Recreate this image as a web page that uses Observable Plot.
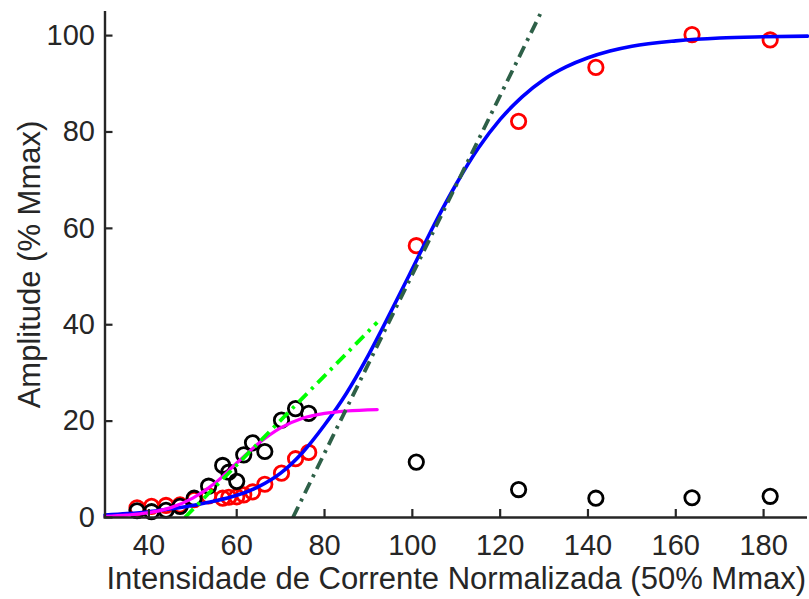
<!DOCTYPE html>
<html>
<head>
<meta charset="utf-8">
<script src="https://cdn.jsdelivr.net/npm/d3@7"></script>
<script src="https://cdn.jsdelivr.net/npm/@observablehq/plot@0.6"></script>
<style>
  html, body { margin: 0; padding: 0; background: #fff; }
  #chart svg { display: block; }
</style>
</head>
<body>
<div id="chart"></div>
<script>
// Shared stimulation intensities (x, % of 50% Mmax)
const intensities = [37.3, 40.6, 43.9, 47.1, 50.3, 53.6, 56.8, 58.2, 60.0, 61.6, 63.6, 66.4, 70.2, 73.4, 76.4, 100.9, 124.2, 141.8, 163.7, 181.5];
// Red series (amplitude, % Mmax)
const redAmp = [2.0, 2.3, 2.5, 2.6, 3.7, 4.5, 4.0, 4.2, 4.3, 4.7, 5.3, 6.9, 9.2, 12.2, 13.5, 56.4, 82.2, 93.4, 100.2, 99.1];
// Black series (amplitude, % Mmax)
const blackAmp = [1.4, 1.2, 1.5, 2.3, 4.0, 6.5, 10.8, 9.4, 7.5, 13.0, 15.5, 13.7, 20.2, 22.6, 21.6, 11.5, 5.8, 4.0, 4.1, 4.4];

// Blue fitted curve
const blueX = [30, 35, 40, 45, 50, 55, 60, 65, 70, 75, 80, 85, 90, 95, 100, 105, 110, 115, 120, 125, 130, 135, 140, 145, 150, 160, 170, 180, 190];
const blueY = [0.5, 0.8, 1.2, 1.8, 2.5, 3.4, 4.6, 6.4, 9.2, 13.5, 19.2, 25.8, 33.7, 42.5, 51.6, 60.8, 69.2, 76.6, 82.6, 87.3, 90.9, 93.5, 95.4, 96.8, 97.8, 98.9, 99.5, 99.75, 99.9];

// Magenta fitted curve
const magX = [30, 35, 40, 45, 50, 55, 60, 65, 70, 75, 80, 85, 92];
const magY = [0.25, 0.5, 1.0, 2.05, 4.0, 7.1, 11.3, 15.4, 18.6, 20.6, 21.6, 22.1, 22.4];

// Bright green dash-dot line (end points)
const greenX = [48.2, 92.0];
const greenY = [0, 40.5];

// Dark green dash-dot tangent line (end points)
const darkX = [72.8, 129.3];
const darkY = [0, 104.8];

const xTicks = [40, 60, 80, 100, 120, 140, 160, 180];
const yTicks = [0, 20, 40, 60, 80, 100];
const xLabel = "Intensidade de Corrente Normalizada (50% Mmax)";
const yLabel = "Amplitude (% Mmax)";

const red = intensities.map((x, i) => ({x, y: redAmp[i]}));
const black = intensities.map((x, i) => ({x, y: blackAmp[i]}));
const blue = blueX.map((x, i) => ({x, y: blueY[i]}));
const mag = magX.map((x, i) => ({x, y: magY[i]}));
const green = greenX.map((x, i) => ({x, y: greenY[i]}));
const dark = darkX.map((x, i) => ({x, y: darkY[i]}));

const axisColor = "#262626";
const font = "'Liberation Sans', Arial, Helvetica, sans-serif";

const chart = Plot.plot({
  width: 809,
  height: 599,
  marginLeft: 104.5,
  marginRight: 2,
  marginTop: 11,
  marginBottom: 82,
  style: {fontFamily: font, background: "#fff", overflow: "visible"},
  x: {domain: [30, 190], ticks: xTicks},
  y: {domain: [0, 105], ticks: yTicks},
  marks: [
    Plot.dot(red, {x: "x", y: "y", r: 7.2, stroke: "#ff0000", fill: "none", strokeWidth: 2.8}),
    Plot.dot(black, {x: "x", y: "y", r: 7.2, stroke: "#000000", fill: "none", strokeWidth: 2.8}),
    Plot.line(blue, {x: "x", y: "y", stroke: "#0000ff", strokeWidth: 3.6, curve: "monotone-x"}),
    Plot.line(mag, {x: "x", y: "y", stroke: "#ff00ff", strokeWidth: 3.2, curve: "monotone-x"}),
    Plot.line(green, {x: "x", y: "y", stroke: "#00ff00", strokeWidth: 3.8, strokeDasharray: "12,6,3,6", strokeLinecap: "butt"}),
    Plot.line(dark, {x: "x", y: "y", stroke: "#2e6048", strokeWidth: 3.8, strokeDasharray: "12,6,3,6", strokeLinecap: "butt"}),
    // axes lines
    Plot.ruleY([0], {stroke: axisColor, strokeWidth: 2.4, insetLeft: -1}),
    Plot.ruleX([30], {stroke: axisColor, strokeWidth: 2.4, insetBottom: -1}),
    // inward ticks
    Plot.ruleX(xTicks, {x: d => d, y1: 0, y2: 0, insetBottom: 8, stroke: axisColor, strokeWidth: 2.2}),
    Plot.ruleY(yTicks, {y: d => d, x1: 30, x2: 30, insetRight: -8, stroke: axisColor, strokeWidth: 2.2}),
    Plot.axisX(xTicks, {tickSize: 0, tickPadding: 17, fontSize: 29, fill: axisColor, label: null}),
    Plot.axisY(yTicks, {tickSize: 0, tickPadding: 10, fontSize: 29, fill: axisColor, label: null}),
    Plot.text([xLabel], {frameAnchor: "bottom", dy: 71, fontSize: 31, fill: axisColor}),
    Plot.text([yLabel], {frameAnchor: "left", textAnchor: "middle", dx: -75, rotate: -90, fontSize: 31, fill: axisColor})
  ]
});
document.getElementById("chart").appendChild(chart);
</script>
</body>
</html>
